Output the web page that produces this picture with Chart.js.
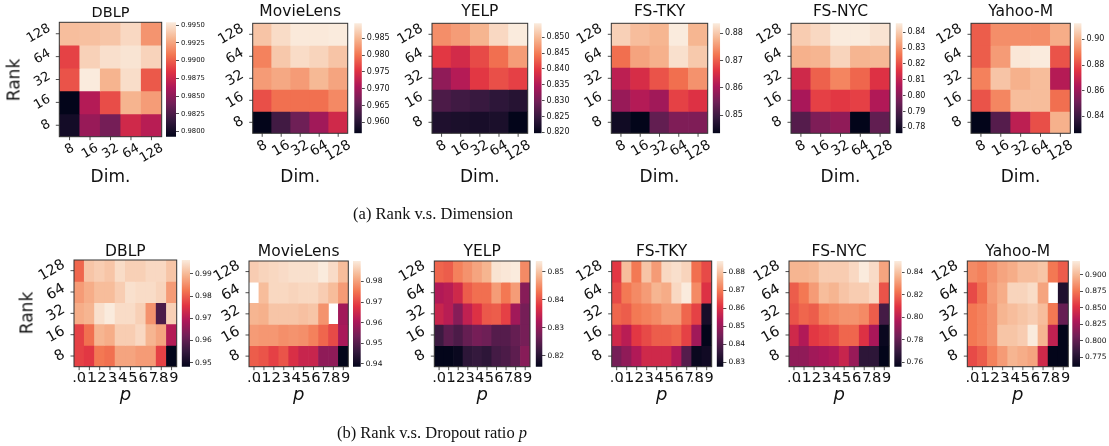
<!DOCTYPE html>
<html><head><meta charset="utf-8">
<script src="https://cdn.jsdelivr.net/npm/chart.js@4.4.1/dist/chart.umd.min.js"></script>
<style>
html,body{margin:0;padding:0;background:#fff;}
#root{position:relative;width:1109px;height:446px;overflow:hidden;background:#fff;}
canvas{position:absolute;display:block;}
.lbl{position:absolute;white-space:nowrap;font-family:"DejaVu Sans",sans-serif;color:#111;line-height:1;}
.cap{font-family:"Liberation Serif","Times New Roman",serif;}
</style></head><body><div id="root"></div>
<script>
// ---------------- DATA ----------------
const datasetNames = ['DBLP','MovieLens','YELP','FS-TKY','FS-NYC','Yahoo-M'];
const rankLabels = ['128','64','32','16','8'];          // rows, top to bottom
const dimLabels  = ['8','16','32','64','128'];          // columns (a)
const pLabels    = ['.0','.1','.2','.3','.4','.5','.6','.7','.8','.9']; // columns (b)

// (a) Rank vs Dimension  (rows: rank 128..8, cols: dim 8..128)
const dblpDim = [
 [0.9935,0.9936,0.9938,0.9946,0.9919],
 [0.9890,0.9943,0.9949,0.9951,0.9944],
 [0.9896,0.9954,0.9931,0.9948,0.9898],
 [0.9793,0.9865,0.9894,0.9931,0.9922],
 [0.9801,0.9854,0.9841,0.9877,0.9867]];
const movieDim = [
 [0.9862,0.9882,0.9893,0.9893,0.9895],
 [0.9810,0.9865,0.9882,0.9875,0.9862],
 [0.9829,0.9839,0.9829,0.9852,0.9836],
 [0.9774,0.9797,0.9797,0.9797,0.9816],
 [0.9567,0.9623,0.9659,0.9698,0.9738]];
const yelpDim = [
 [0.8464,0.8475,0.8495,0.8527,0.8544],
 [0.8398,0.8381,0.8412,0.8440,0.8475],
 [0.8322,0.8353,0.8398,0.8416,0.8405],
 [0.8266,0.8256,0.8249,0.8239,0.8232],
 [0.8225,0.8221,0.8218,0.8221,0.8197]];
const tkyDim = [
 [0.8809,0.8789,0.8781,0.8837,0.8781],
 [0.8716,0.8764,0.8777,0.8825,0.8801],
 [0.8623,0.8652,0.8692,0.8716,0.8748],
 [0.8587,0.8615,0.8595,0.8676,0.8660],
 [0.8450,0.8434,0.8535,0.8563,0.8563]];
const nycDim = [
 [0.8401,0.8422,0.8457,0.8457,0.8443],
 [0.8353,0.8360,0.8415,0.8360,0.8367],
 [0.8123,0.8228,0.8283,0.8235,0.8151],
 [0.8054,0.8179,0.8165,0.8179,0.8068],
 [0.7915,0.7984,0.8012,0.7762,0.7936]];
const yahooDim = [
 [0.8834,0.8928,0.8928,0.8928,0.8988],
 [0.8834,0.8954,0.9116,0.9125,0.8816],
 [0.8902,0.9039,0.8996,0.9022,0.8654],
 [0.8816,0.8911,0.9022,0.9022,0.8868],
 [0.8268,0.8457,0.8671,0.8808,0.8996]];

// (b) Rank vs Dropout ratio p (rows: rank 128..8, cols: p .0...9); null = missing cell
const dblpP = [
 [0.9809,0.9915,0.9925,0.9915,0.9944,0.9929,0.9929,0.9939,0.9939,0.9915],
 [0.9867,0.9886,0.9905,0.9905,0.9925,0.9949,0.9944,0.9944,0.9934,0.9867],
 [0.9886,0.9896,0.9949,0.9963,0.9944,0.9944,0.9929,0.9857,0.9578,0.9929],
 [0.9771,0.9819,0.9896,0.9886,0.9925,0.9925,0.9939,0.9896,0.9876,0.9698],
 [0.9771,0.9761,0.9828,0.9819,0.9876,0.9876,0.9867,0.9867,0.9771,0.9482]];
const movieP = [
 [0.9859,0.9869,0.9874,0.9879,0.9885,0.9885,0.9885,0.9900,0.9879,0.9838],
 [null,  0.9838,0.9874,0.9874,0.9869,0.9874,0.9874,0.9859,0.9838,0.9797],
 [0.9828,0.9823,0.9849,0.9849,0.9849,0.9843,0.9849,0.9787,null,  0.9591],
 [0.9797,0.9792,0.9792,0.9782,0.9787,0.9782,0.9766,0.9735,0.9704,0.9601],
 [0.9725,0.9715,0.9694,0.9715,0.9668,0.9643,0.9643,0.9570,0.9570,0.9385]];
const yelpP = [
 [0.8417,0.8410,0.8440,0.8455,0.8470,0.8485,0.8530,0.8534,0.8538,0.8448],
 [0.8327,0.8334,0.8357,0.8410,0.8425,0.8425,0.8463,0.8432,0.8463,0.8289],
 [0.8350,0.8334,0.8289,0.8342,0.8372,0.8406,0.8410,0.8387,0.8312,0.8274],
 [0.8221,0.8251,0.8236,0.8259,0.8274,0.8267,0.8244,0.8244,0.8259,0.8274],
 [0.8161,0.8161,0.8169,0.8206,0.8214,0.8206,0.8229,0.8236,0.8251,0.8289]];
const tkyP = [
 [0.8616,0.8792,0.8698,0.8803,0.8745,0.8833,0.8844,0.8827,0.8686,0.8639],
 [0.8639,0.8698,0.8721,0.8745,0.8780,0.8768,0.8833,0.8862,0.8721,0.8604],
 [0.8674,0.8663,0.8698,0.8710,0.8721,0.8745,0.8745,0.8674,0.8628,0.8311],
 [0.8581,0.8546,0.8616,0.8639,0.8663,0.8663,0.8674,0.8628,0.8510,0.8276],
 [0.8452,0.8487,0.8534,0.8581,0.8581,0.8581,0.8534,0.8405,0.8288,0.8299]];
const nycP = [
 [0.8369,0.8369,0.8378,0.8425,0.8425,0.8425,0.8453,0.8500,0.8462,0.8331],
 [0.8181,0.8237,0.8312,0.8387,0.8369,0.8406,0.8425,0.8425,0.8453,0.8162],
 [0.8162,0.8200,0.8181,0.8256,0.8275,0.8294,0.8294,0.8275,0.8181,0.7731],
 [0.8050,0.7975,0.8106,0.8125,0.8144,0.8200,0.8200,0.8087,0.7956,0.7581],
 [0.7900,0.7900,0.7937,0.7956,0.7975,0.8031,0.7918,0.7675,0.7675,0.7562]];
const yahooP = [
 [0.8828,0.8795,0.8860,0.8924,0.8956,0.9020,0.9020,0.9052,0.8763,0.8667],
 [0.8603,0.8731,0.8892,0.8956,0.9116,0.9116,0.9148,0.8924,null,  0.7738],
 [0.8763,0.8795,0.8860,0.8988,0.9020,0.9052,0.9084,0.9020,0.8763,0.8027],
 [0.8763,0.8795,0.8860,0.9052,0.9052,0.9084,0.9212,0.8988,0.8379,0.7610],
 [0.8603,0.8667,0.8795,0.8892,0.8988,0.8956,0.8924,0.8443,0.7610,0.7610]];

// colorbar tick values
const dblpDimTicks  = [0.9800,0.9825,0.9850,0.9875,0.9900,0.9925,0.9950];
const movieDimTicks = [0.960,0.965,0.970,0.975,0.980,0.985];
const yelpDimTicks  = [0.820,0.825,0.830,0.835,0.840,0.845,0.850];
const tkyDimTicks   = [0.85,0.86,0.87,0.88];
const nycDimTicks   = [0.78,0.79,0.80,0.81,0.82,0.83,0.84];
const yahooDimTicks = [0.84,0.86,0.88,0.90];
const dblpPTicks  = [0.95,0.96,0.97,0.98,0.99];
const moviePTicks = [0.94,0.95,0.96,0.97,0.98];
const yelpPTicks  = [0.82,0.83,0.84,0.85];
const tkyPTicks   = [0.83,0.84,0.85,0.86,0.87,0.88];
const nycPTicks   = [0.76,0.78,0.80,0.82,0.84];
const yahooPTicks = [0.775,0.800,0.825,0.850,0.875,0.900];

// ---------------- COLORMAP (seaborn "rocket" approx) ----------------
const rocket = [[0,[3,5,26]],[1/7,[53,25,62]],[2/7,[112,31,87]],[3/7,[173,23,89]],
  [4/7,[225,51,66]],[5/7,[243,118,81]],[6/7,[246,180,143]],[1,[250,235,221]]];
function cmap(t){
  t = Math.min(1, Math.max(0, t));
  for (let i = 1; i < rocket.length; i++) {
    if (t <= rocket[i][0]) {
      const [t0,c0] = rocket[i-1], [t1,c1] = rocket[i];
      const f = (t - t0) / (t1 - t0);
      return 'rgb(' + c0.map((c,k) => Math.round(c + (c1[k]-c)*f)).join(',') + ')';
    }
  }
  return 'rgb(250,235,221)';
}

Chart.defaults.font.family = '"DejaVu Sans", sans-serif';
const root = document.getElementById('root');
const TXT = '#111';

function makeCanvas(l, t, w, h){
  const c = document.createElement('canvas');
  c.width = w; c.height = h;
  c.style.left = l + 'px'; c.style.top = t + 'px';
  c.style.width = w + 'px'; c.style.height = h + 'px';
  root.appendChild(c);
  return c;
}
function addText(html, cx, cy, size, opt){
  opt = opt || {};
  const d = document.createElement('div');
  d.className = 'lbl' + (opt.cls ? ' ' + opt.cls : '');
  d.innerHTML = html;
  d.style.left = cx + 'px'; d.style.top = cy + 'px';
  d.style.fontSize = size + 'px';
  if (opt.italic) d.style.fontStyle = 'italic';
  d.style.transform = 'translate(-50%,-50%)' + (opt.rot ? ' rotate(' + opt.rot + 'deg)' : '');
  root.appendChild(d);
}

const heatAxes = {
  id: 'heatAxes',
  afterDraw(chart, args, o){
    const ctx = chart.ctx, a = chart.chartArea, xs = chart.scales.x, ys = chart.scales.y;
    const nR = chart.data.datasets.length;
    ctx.save();
    ctx.strokeStyle = '#333'; ctx.lineWidth = 1;
    ctx.strokeRect(a.left, a.top, a.right - a.left, a.bottom - a.top);
    ctx.strokeStyle = '#222'; ctx.lineWidth = 0.8;
    ctx.fillStyle = TXT;
    ctx.font = o.size + 'px "DejaVu Sans"';
    ctx.textAlign = 'center'; ctx.textBaseline = 'middle';
    const tl = 3.5, pad = o.pad;
    const h = o.size * 0.9;
    chart.data.labels.forEach((lab, i) => {
      const x = xs.getPixelForValue(i);
      ctx.beginPath(); ctx.moveTo(x, a.bottom); ctx.lineTo(x, a.bottom + tl); ctx.stroke();
      const w = ctx.measureText(lab).width;
      const ang = o.xRot * Math.PI / 180;
      const bh = w * Math.sin(ang) + h * Math.cos(ang);
      ctx.save(); ctx.translate(x, a.bottom + tl + pad + bh / 2); ctx.rotate(-ang);
      ctx.fillText(lab, 0, 0); ctx.restore();
    });
    chart.data.datasets.forEach((ds, i) => {
      const y = ys.getPixelForValue(nR - 1 - i + 0.5);
      ctx.beginPath(); ctx.moveTo(a.left, y); ctx.lineTo(a.left - tl, y); ctx.stroke();
      const w = ctx.measureText(ds.label).width;
      const ang = o.yRot * Math.PI / 180;
      const bw = w * Math.cos(ang) + h * Math.sin(ang);
      ctx.save(); ctx.translate(a.left - tl - 3.5 - bw / 2, y); ctx.rotate(-ang);
      ctx.fillText(ds.label, 0, 0); ctx.restore();
    });
    ctx.restore();
  }
};

function heatmap(rect, cols, values, tickSize, xRot, pad){
  const [hx, hy, hw, hh] = rect;
  const L = Math.floor(hx) - 58, T = Math.floor(hy) - 3;
  const W = Math.ceil(hx + hw) + 3 - L, H = Math.ceil(hy + hh) + 38 - T;
  const cv = makeCanvas(L, T, W, H);
  const nR = rankLabels.length;
  const vals = values.flat().filter(v => v != null);
  const vmin = Math.min(...vals), vmax = Math.max(...vals);
  new Chart(cv, {
    type: 'bar',
    data: {
      labels: cols,
      datasets: rankLabels.map((r, i) => ({
        label: r,
        data: values[i].map(v => v == null ? null : [nR - 1 - i, nR - i]),
        backgroundColor: values[i].map(v => v == null ? 'rgba(0,0,0,0)' : cmap((v - vmin) / (vmax - vmin))),
        borderWidth: 0, barPercentage: 1, categoryPercentage: 1, grouped: false
      }))
    },
    options: {
      responsive: false, animation: false, devicePixelRatio: 1,
      layout: { padding: { left: hx - L, top: hy - T, right: L + W - (hx + hw), bottom: T + H - (hy + hh) } },
      scales: { x: { display: false }, y: { display: false, min: 0, max: nR } },
      plugins: { legend: { display: false }, tooltip: { enabled: false },
        heatAxes: { size: tickSize, xRot: xRot, yRot: 30, pad: pad } }
    },
    plugins: [heatAxes]
  });
  return { vmin, vmax };
}

function colorbar(rect, values, ticks, dec, size){
  const [cx, cy, cw, ch] = rect;
  const vals = values.flat().filter(v => v != null);
  const vmin = Math.min(...vals), vmax = Math.max(...vals);
  const AX = 44;
  const L = Math.floor(cx), T = Math.floor(cy) - 8;
  const padL = cx - L, padT = cy - T;
  const W = Math.ceil(padL + cw) + AX, H = Math.ceil(padT + ch + 8);
  const padR = W - AX - padL - cw, padB = H - padT - ch;
  const cv = makeCanvas(L, T, W, H);
  new Chart(cv, {
    type: 'bar',
    data: { labels: [''], datasets: [{
      data: [[vmin, vmax]], borderWidth: 0, barPercentage: 1, categoryPercentage: 1,
      backgroundColor: (c) => {
        const ca = c.chart.chartArea; if (!ca) return 'rgba(0,0,0,0)';
        const g = c.chart.ctx.createLinearGradient(0, ca.bottom, 0, ca.top);
        rocket.forEach(([t, col]) => g.addColorStop(t, 'rgb(' + col.join(',') + ')'));
        return g;
      }
    }]},
    options: {
      responsive: false, animation: false, devicePixelRatio: 1,
      layout: { padding: { left: padL, top: padT, right: padR, bottom: padB } },
      scales: {
        x: { display: false },
        y: { position: 'right', min: vmin, max: vmax,
          afterBuildTicks: (s) => { s.ticks = ticks.map(v => ({ value: v })); },
          afterFit: (s) => { s.width = AX; },
          ticks: { autoSkip: false, font: { size: size }, color: TXT, padding: 2,
            callback: (v) => Number(v).toFixed(dec) },
          grid: { drawOnChartArea: false, drawTicks: true, tickLength: 3, color: '#222', lineWidth: 0.8 },
          border: { display: false } }
      },
      plugins: { legend: { display: false }, tooltip: { enabled: false } }
    }
  });
}

// ---------------- LAYOUT ----------------
const rowA = [
  { values: dblpDim,  ticks: dblpDimTicks,  dec: 4, heat: [59.3, 22.3, 102.4, 114.4], cb: [166, 22.3, 10, 114.4], tick: 13, cbf: 6.8, title: 14.5 },
  { values: movieDim, ticks: movieDimTicks, dec: 3, heat: [252.7, 23.3, 95, 110],   cb: [354.3, 23.3, 7.5, 110], tick: 14, cbf: 8, title: 15.5 },
  { values: yelpDim,  ticks: yelpDimTicks,  dec: 3, heat: [432, 23.3, 95.7, 110],   cb: [534, 23.3, 7.6, 110],   tick: 14, cbf: 8, title: 15.5 },
  { values: tkyDim,   ticks: tkyDimTicks,   dec: 2, heat: [611.3, 23.3, 96.4, 110], cb: [712.7, 23.3, 7.4, 110], tick: 14, cbf: 8, title: 15.5 },
  { values: nycDim,   ticks: nycDimTicks,   dec: 2, heat: [791, 23.3, 99, 110],     cb: [895.7, 23.3, 6.8, 110], tick: 14, cbf: 8, title: 15.5 },
  { values: yahooDim, ticks: yahooDimTicks, dec: 2, heat: [971, 23.3, 99.3, 110],   cb: [1074, 23.3, 7.5, 110],  tick: 14, cbf: 8, title: 15.5 }
];
const rowB = [
  { values: dblpP,  ticks: dblpPTicks,  dec: 2, heat: [74, 260, 102.7, 106.7],    cb: [181.7, 260, 8.3, 106.7], tick: 14.5, cbf: 7.5, title: 15.5 },
  { values: movieP, ticks: moviePTicks, dec: 2, heat: [249, 261, 99.3, 105.7],    cb: [353, 261, 7.7, 105.7],   tick: 14.5, cbf: 7.5, title: 15.5 },
  { values: yelpP,  ticks: yelpPTicks,  dec: 2, heat: [434.3, 261, 95.7, 105.7],  cb: [535.7, 261, 6.7, 105.7], tick: 14.5, cbf: 7.5, title: 15.5 },
  { values: tkyP,   ticks: tkyPTicks,   dec: 2, heat: [611.7, 261, 100, 105.7],   cb: [716.7, 261, 6.7, 105.7], tick: 14.5, cbf: 7.5, title: 15.5 },
  { values: nycP,   ticks: nycPTicks,   dec: 2, heat: [789, 261, 100.3, 105.7],   cb: [894.3, 261, 7.3, 105.7], tick: 14.5, cbf: 7.5, title: 15.5 },
  { values: yahooP, ticks: yahooPTicks, dec: 3, heat: [967.3, 261, 101, 105.7],   cb: [1072.3, 261, 7.7, 105.7], tick: 14.5, cbf: 7.5, title: 15.5 }
];

rowA.forEach((p, i) => {
  heatmap(p.heat, dimLabels, p.values, p.tick, 30, 2);
  colorbar(p.cb, p.values, p.ticks, p.dec, p.cbf);
  const cx = p.heat[0] + p.heat[2] / 2;
  addText(datasetNames[i], cx, 12, p.title);
  addText('Dim.', cx, 176, 17);
});
addText('Rank', 13.5, 80, 17, { rot: -90 });

rowB.forEach((p, i) => {
  heatmap(p.heat, pLabels, p.values, p.tick, 0, 1.5);
  colorbar(p.cb, p.values, p.ticks, p.dec, p.cbf);
  const cx = p.heat[0] + p.heat[2] / 2;
  addText(datasetNames[i], cx, 252, p.title);
  addText('p', cx, 394, 18, { italic: true });
});
addText('Rank', 27, 313, 17, { rot: -90 });

addText('(a) Rank v.s. Dimension', 433, 214, 16.5, { cls: 'cap' });
addText('(b) Rank v.s. Dropout ratio <i>p</i>', 432, 433, 16.5, { cls: 'cap' });
</script></body></html>
